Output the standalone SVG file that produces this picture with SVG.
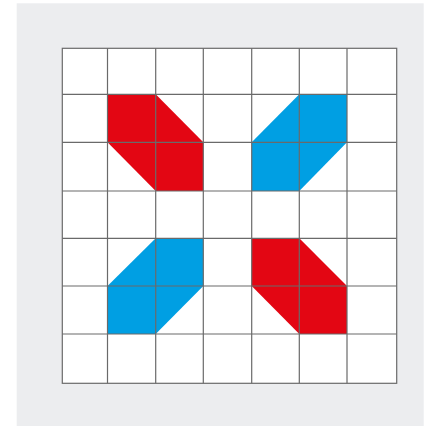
<svg xmlns="http://www.w3.org/2000/svg" width="425" height="426" viewBox="0 0 425 426">
  <style>
    .red { fill: #e30613; }
    .blue { fill: #009fe3; }
    .grid { stroke: #6a6a6a; stroke-width: 1.2; fill: none; }
  </style>
  <rect x="0" y="0" width="425" height="426" fill="#ffffff"/>
  <rect x="16.7" y="3.3" width="407" height="423" fill="#ecedef"/>
  <rect x="62.3" y="48.3" width="334.4" height="335" fill="#ffffff"/>
  <g id="shapes">
    <polygon id="red-tl" class="red" points="107.5,94.3 155.7,94.3 203.3,142.3 203.3,191 155.7,191 107.5,142.3"/>
    <polygon id="blue-tr" class="blue" points="299.3,94.3 347,94.3 347,142.3 299.3,191 251.7,191 251.7,142.3"/>
    <polygon id="blue-bl" class="blue" points="155.7,238.3 203.3,238.3 203.3,286 155.7,334 107.5,334 107.5,286"/>
    <polygon id="red-br" class="red" points="251.7,238.3 299.3,238.3 347,286 347,334 299.3,334 251.7,286"/>
  </g>
  <g id="grid" class="grid">
    <rect x="62.3" y="48.3" width="334.4" height="335"/>
    <path d="M107.5 48.3V383.3M155.7 48.3V383.3M203.3 48.3V383.3M251.7 48.3V383.3M299.3 48.3V383.3M347 48.3V383.3"/>
    <path d="M62.3 94.3H396.7M62.3 142.3H396.7M62.3 191H396.7M62.3 238.3H396.7M62.3 286H396.7M62.3 334H396.7"/>
  </g>
</svg>
